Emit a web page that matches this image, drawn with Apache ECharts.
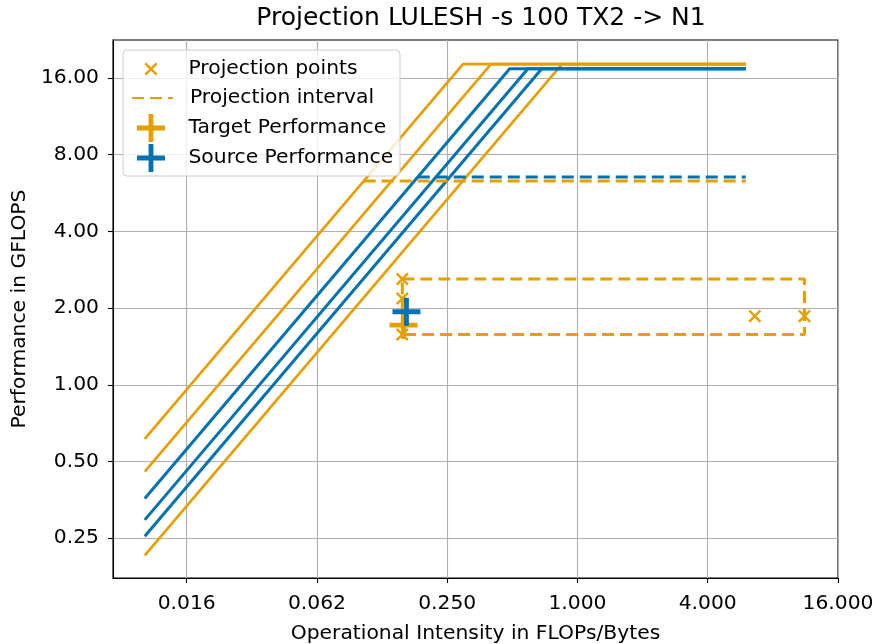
<!DOCTYPE html>
<html>
<head>
<meta charset="utf-8">
<title>Projection LULESH -s 100 TX2 -> N1</title>
<script src="https://cdn.jsdelivr.net/npm/echarts@6/dist/echarts.min.js"></script>
<style>
  html, body { margin: 0; padding: 0; background: #fff; }
  #chart { width: 873px; height: 644px; }
</style>
</head>
<body>
<div id="chart"></div>
<script>
  // ticks (log2 axes)
  const xTickValues = [0.015625, 0.0625, 0.25, 1, 4, 16];
  const xTickLabels = ['0.016', '0.062', '0.250', '1.000', '4.000', '16.000'];
  const yTickValues = [0.25, 0.5, 1, 2, 4, 8, 16];
  const yTickLabels = ['0.25', '0.50', '1.00', '2.00', '4.00', '8.00', '16.00'];

  // x range covered by the rooflines
  const roofX = [0.01, 6.0];

  // target machine (N1): peak GFLOPS, memory bandwidths GB/s, lower ceiling
  const targetPeak = 18.16;
  const targetBandwidths = [61.4, 45.6, 21.4];
  const targetCeiling = 6.31;

  // source machine (TX2)
  const sourcePeak = 17.4;
  const sourceBandwidths = [35.8, 29.5, 25.45];
  const sourceCeiling = 6.54;

  // projection results
  const projPointsX = [0.155, 0.155, 0.155, 6.6, 11.2];
  const projPointsY = [2.6, 2.18, 1.575, 1.86, 1.86];
  const projIntervalX = [0.155, 11.2];
  const projIntervalY = [1.575, 2.6];
  const targetPerf = [0.157, 1.715];
  const sourcePerf = [0.162, 1.935];

  const ORANGE = '#E69F00';
  const BLUE = '#0072B2';
  const FONT = 'DejaVu Sans';
  const FS = 20.3;

  const crossPath = 'path://M0 1.6 L1.6 0 L12 10.4 L10.4 12 Z M10.4 0 L12 1.6 L1.6 12 L0 10.4 Z';
  const plusPath = 'path://M11.6 0 H16.4 V11.6 H28 V16.4 H16.4 V28 H11.6 V16.4 H0 V11.6 H11.6 Z';

  function tickLabel(v, values, labels) {
    let best = 0;
    for (let i = 1; i < values.length; i++) {
      if (Math.abs(Math.log2(v) - Math.log2(values[i])) < Math.abs(Math.log2(v) - Math.log2(values[best]))) best = i;
    }
    return labels[best];
  }

  function roofline(bw, peak) {
    return [[roofX[0], bw * roofX[0]], [peak / bw, peak], [roofX[1], peak]];
  }

  function roofSeries(bw, peak, color, width) {
    return {
      type: 'line', data: roofline(bw, peak), symbol: 'none', z: 2,
      lineStyle: { color: color, width: width }, silent: true
    };
  }

  const series = [];
  targetBandwidths.forEach(bw => series.push(roofSeries(bw, targetPeak, ORANGE, 2.7)));
  sourceBandwidths.forEach(bw => series.push(roofSeries(bw, sourcePeak, BLUE, 3)));

  // lower ceilings (dashed)
  series.push({
    type: 'line', symbol: 'none', silent: true,
    data: [[sourceCeiling / sourceBandwidths[0], sourceCeiling], [roofX[1], sourceCeiling]],
    lineStyle: { color: BLUE, width: 3, type: [12, 6] }
  });
  series.push({
    type: 'line', symbol: 'none', silent: true,
    data: [[targetCeiling / targetBandwidths[0], targetCeiling], [roofX[1], targetCeiling]],
    lineStyle: { color: ORANGE, width: 3, type: [12, 6] }
  });

  // projection interval box
  series.push({
    name: 'Projection interval', type: 'line', symbol: 'none', silent: true,
    data: [
      [projIntervalX[0], projIntervalY[1]], [projIntervalX[1], projIntervalY[1]],
      [projIntervalX[1], projIntervalY[0]], [projIntervalX[0], projIntervalY[0]],
      [projIntervalX[0], projIntervalY[1]]
    ],
    lineStyle: { color: ORANGE, width: 3, type: [12, 6] },
    itemStyle: { color: ORANGE }
  });

  series.push({
    name: 'Projection points', type: 'scatter', symbol: crossPath, symbolSize: 13, z: 3,
    data: projPointsX.map((x, i) => [x, projPointsY[i]]),
    itemStyle: { color: ORANGE, opacity: 1 }
  });
  series.push({
    name: 'Target Performance', type: 'scatter', symbol: plusPath, symbolSize: 28, z: 4,
    data: [targetPerf], itemStyle: { color: ORANGE, opacity: 1 }
  });
  series.push({
    name: 'Source Performance', type: 'scatter', symbol: plusPath, symbolSize: 28, z: 5,
    data: [sourcePerf], itemStyle: { color: BLUE, opacity: 1 }
  });

  // one legend per row so each marker can keep its own size
  function legendItem(name, left, top, itemHeight, extra) {
    return Object.assign({
      data: [name], left: left, top: top, orient: 'vertical', padding: 0,
      itemWidth: 41, itemHeight: itemHeight, selectedMode: false, z: 6,
      textStyle: { fontFamily: FONT, fontSize: FS, color: '#000', padding: [0, 0, 0, 12] }
    }, extra || {});
  }

  const chart = echarts.init(document.getElementById('chart'));
  chart.setOption({
    animation: false,
    backgroundColor: '#fff',
    title: {
      text: 'Projection LULESH -s 100 TX2 -> N1',
      left: 481, top: 6, padding: 0, textAlign: 'center',
      textStyle: { fontFamily: FONT, fontSize: 25, fontWeight: 'normal', color: '#000' }
    },
    grid: {
      left: 113, right: 35, top: 40, bottom: 66, outerBoundsMode: 'none',
      show: true, borderColor: '#000', borderWidth: 1.1, backgroundColor: '#fff'
    },
    xAxis: {
      type: 'log', logBase: 2, min: 0.00713, max: 16,
      name: 'Operational Intensity in FLOPs/Bytes', nameLocation: 'middle', nameGap: 46,
      nameTextStyle: { fontFamily: FONT, fontSize: FS, color: '#000' },
      axisLine: { show: true, lineStyle: { color: '#000', width: 1.1 } },
      axisTick: { show: true, customValues: xTickValues, length: 5, lineStyle: { color: '#000', width: 1.1 } },
      axisLabel: {
        customValues: xTickValues, margin: 16,
        fontFamily: FONT, fontSize: FS, color: '#000',
        formatter: v => tickLabel(v, xTickValues, xTickLabels)
      },
      splitLine: { show: true, lineStyle: { color: '#b0b0b0', width: 1.1 } }
    },
    yAxis: {
      type: 'log', logBase: 2, min: 0.1744, max: 22.57,
      name: 'Performance in GFLOPS', nameLocation: 'middle', nameGap: 73,
      nameTextStyle: { fontFamily: FONT, fontSize: FS, color: '#000' },
      axisLine: { show: true, lineStyle: { color: '#000', width: 1.1 } },
      axisTick: { show: true, customValues: yTickValues, length: 5, lineStyle: { color: '#000', width: 1.1 } },
      axisLabel: {
        customValues: yTickValues, margin: 14,
        fontFamily: FONT, fontSize: FS, color: '#000',
        formatter: v => tickLabel(v, yTickValues, yTickLabels)
      },
      splitLine: { show: true, lineStyle: { color: '#b0b0b0', width: 1.1 } }
    },
    legend: [
      legendItem('Projection points', 144.5, 59, 13),
      legendItem('Projection interval', 131, 88, 14,
        { itemStyle: { color: 'rgba(0,0,0,0)', borderColor: 'rgba(0,0,0,0)', borderWidth: 0 } }),
      legendItem('Target Performance', 137, 114, 28),
      legendItem('Source Performance', 137, 144, 28)
    ],
    graphic: [{
      type: 'rect', z: 3, silent: true,
      shape: { x: 123, y: 50, width: 277, height: 126, r: 4 },
      style: { fill: 'rgba(255,255,255,0.8)', stroke: '#cccccc', lineWidth: 1 }
    }],
    series: series
  });
</script>
</body>
</html>
